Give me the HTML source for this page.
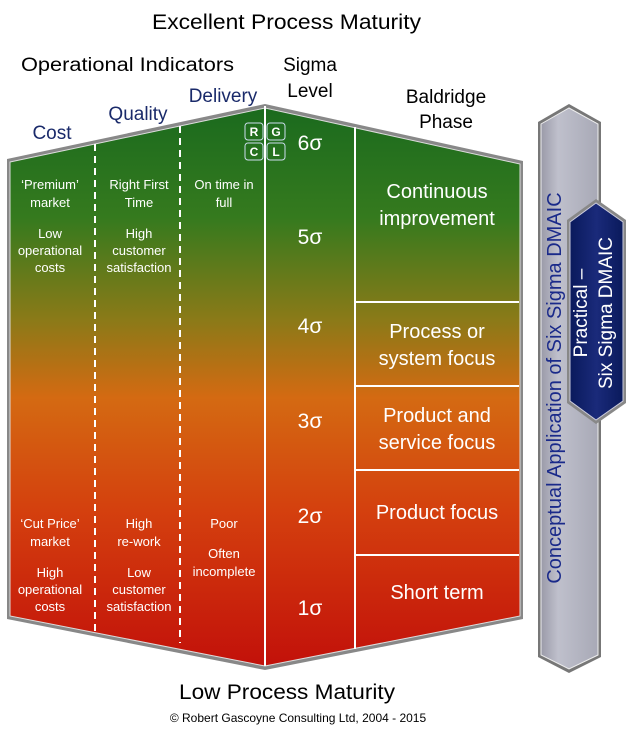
<!DOCTYPE html>
<html><head><style>body{margin:0;background:#fff}svg{display:block}text{font-family:"Liberation Sans",sans-serif}</style></head><body>
<svg width="635" height="734" viewBox="0 0 635 734" xmlns="http://www.w3.org/2000/svg">
<defs>
<linearGradient id="g" gradientUnits="userSpaceOnUse" x1="0" y1="105" x2="0" y2="668">
<stop offset="0" stop-color="#1a6a1e"/><stop offset="0.2" stop-color="#357a1e"/><stop offset="0.38" stop-color="#8a7a18"/><stop offset="0.52" stop-color="#d46a12"/><stop offset="0.72" stop-color="#d4400e"/><stop offset="1" stop-color="#c2100a"/>
</linearGradient>
<linearGradient id="gr" x1="0" x2="1"><stop offset="0" stop-color="#9a9aa8"/><stop offset="0.3" stop-color="#bfc0cc"/><stop offset="1" stop-color="#a8a9b6"/></linearGradient>
<linearGradient id="bl" x1="0" x2="1"><stop offset="0" stop-color="#0a1a5c"/><stop offset="0.5" stop-color="#1a2a7a"/><stop offset="1" stop-color="#0a1a5c"/></linearGradient>
</defs>
<text x="152" y="29" font-size="21" textLength="269" lengthAdjust="spacingAndGlyphs">Excellent Process Maturity</text>
<text x="21" y="71" font-size="19" textLength="213" lengthAdjust="spacingAndGlyphs">Operational Indicators</text>
<text x="310" y="71" font-size="19" text-anchor="middle">Sigma</text>
<text x="310" y="97" font-size="19" text-anchor="middle">Level</text>
<text x="446" y="103" font-size="19" text-anchor="middle">Baldridge</text>
<text x="446" y="128" font-size="19" text-anchor="middle">Phase</text>
<text x="52" y="139" font-size="19" fill="#1a2a6a" text-anchor="middle">Cost</text>
<text x="138" y="120" font-size="19" fill="#1a2a6a" text-anchor="middle">Quality</text>
<text x="223" y="102" font-size="19" fill="#1a2a6a" text-anchor="middle">Delivery</text>
<polygon points="7,159 265,104 523,161 523,619 265,670 7,619" fill="#888" />
<polygon points="10,162 265,108 520,164 520,616 265,666 10,616" fill="url(#g)" stroke="#ddd" stroke-width="1"/>
<g stroke="#fff" stroke-width="2" fill="none">
<line x1="95" y1="144" x2="95" y2="635" stroke-dasharray="7,5"/>
<line x1="180" y1="126" x2="180" y2="643" stroke-dasharray="7,5"/>
<line x1="265" y1="106" x2="265" y2="666"/>
<line x1="355" y1="127" x2="355" y2="649"/>
<line x1="355" y1="302" x2="519" y2="302"/>
<line x1="355" y1="386" x2="519" y2="386"/>
<line x1="355" y1="470" x2="519" y2="470"/>
<line x1="355" y1="555" x2="519" y2="555"/>
</g>
<g fill="none" stroke="#cde" stroke-width="1"><rect x="245" y="123" width="18" height="17" rx="3"/><rect x="267" y="123" width="18" height="17" rx="3"/><rect x="245" y="143" width="18" height="17" rx="3"/><rect x="267" y="143" width="18" height="17" rx="3"/></g>
<g fill="#fff" font-size="12" font-weight="bold" text-anchor="middle"><text x="254" y="136">R</text><text x="276" y="136">G</text><text x="254" y="156">C</text><text x="276" y="156">L</text></g>
<g fill="#fff" font-size="21" text-anchor="middle">
<text x="310" y="150">6σ</text><text x="310" y="244">5σ</text><text x="310" y="333">4σ</text><text x="310" y="428">3σ</text><text x="310" y="523">2σ</text><text x="310" y="615">1σ</text>
</g>
<g fill="#fff" font-size="20" text-anchor="middle">
<text x="437" y="198">Continuous</text><text x="437" y="225">improvement</text>
<text x="437" y="338">Process or</text><text x="437" y="365">system focus</text>
<text x="437" y="422">Product and</text><text x="437" y="449">service focus</text>
<text x="437" y="519">Product focus</text>
<text x="437" y="599">Short term</text>
</g>
<g fill="#fff" font-size="13" text-anchor="middle">
<text x="50" y="189">‘Premium’</text><text x="50" y="207">market</text>
<text x="50" y="238">Low</text><text x="50" y="255">operational</text><text x="50" y="272">costs</text>
<text x="139" y="189">Right First</text><text x="139" y="207">Time</text>
<text x="139" y="238">High</text><text x="139" y="255">customer</text><text x="139" y="272">satisfaction</text>
<text x="224" y="189">On time in</text><text x="224" y="207">full</text>
<text x="50" y="528">‘Cut Price’</text><text x="50" y="546">market</text>
<text x="50" y="577">High</text><text x="50" y="594">operational</text><text x="50" y="611">costs</text>
<text x="139" y="528">High</text><text x="139" y="546">re-work</text>
<text x="139" y="577">Low</text><text x="139" y="594">customer</text><text x="139" y="611">satisfaction</text>
<text x="224" y="528">Poor</text><text x="224" y="558">Often</text><text x="224" y="576">incomplete</text>
</g>
<polygon points="538,122 569,104 601,122 601,657 569,673 538,657" fill="#777"/>
<polygon points="541,124 569,108 598,124 598,655 569,669 541,655" fill="url(#gr)" stroke="#eee" stroke-width="1"/>
<text transform="translate(561,388) rotate(-90)" font-size="20" fill="#1a2a8a" text-anchor="middle">Conceptual Application of Six Sigma DMAIC</text>
<polygon points="567,220 596,199 626,220 626,403 596,424 567,403" fill="#888"/>
<polygon points="570,222 596,203 623,222 623,401 596,420 570,401" fill="url(#bl)" stroke="#ccd" stroke-width="1"/>
<text transform="translate(587,313) rotate(-90)" font-size="19" fill="#fff" text-anchor="middle">Practical –</text>
<text transform="translate(612,313) rotate(-90)" font-size="19" fill="#fff" text-anchor="middle">Six Sigma DMAIC</text>
<text x="179" y="699" font-size="21" textLength="216" lengthAdjust="spacingAndGlyphs">Low Process Maturity</text>
<text x="298" y="722" font-size="12" text-anchor="middle">© Robert Gascoyne Consulting Ltd, 2004 - 2015</text>
</svg>
</body></html>
